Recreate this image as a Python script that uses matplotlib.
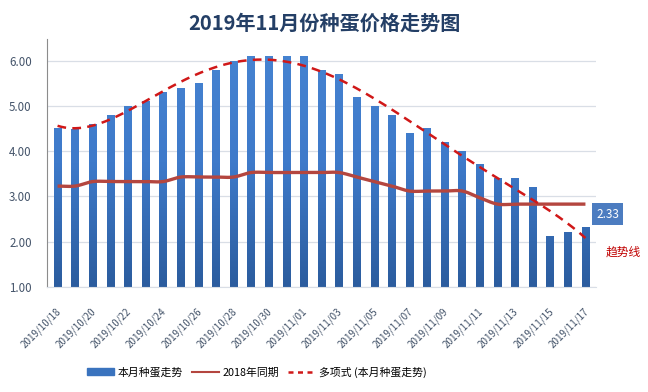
import numpy as np
import matplotlib
matplotlib.use("Agg")
import matplotlib.pyplot as plt
import matplotlib.transforms as mtrans
from matplotlib.patches import Patch
from matplotlib.lines import Line2D
from matplotlib.colors import LinearSegmentedColormap
import datetime as dt

plt.rcParams['font.family'] = ['Noto Sans CJK SC', 'DejaVu Sans']

title = "2019年11月份种蛋价格走势图"
start = dt.date(2019, 10, 18)
n_days = 31
dates = [start + dt.timedelta(days=i) for i in range(n_days)]
date_labels = [d.strftime("%Y/%m/%d") for d in dates]

# 本月种蛋走势
prices_2019 = [4.52, 4.50, 4.60, 4.80, 5.00, 5.11, 5.31, 5.40, 5.51, 5.80,
               6.00, 6.11, 6.11, 6.11, 6.11, 5.80, 5.71, 5.20, 5.00, 4.80,
               4.40, 4.52, 4.20, 4.00, 3.72, 3.41, 3.41, 3.20, 2.12, 2.21, 2.33]
# 2018年同期
prices_2018 = [3.23, 3.23, 3.33, 3.33, 3.33, 3.33, 3.33, 3.43, 3.43, 3.43,
               3.43, 3.53, 3.53, 3.53, 3.53, 3.53, 3.53, 3.43, 3.33, 3.23,
               3.12, 3.12, 3.12, 3.12, 2.97, 2.83, 2.83, 2.83, 2.83, 2.83, 2.83]

legend_labels = ["本月种蛋走势", "2018年同期", "多项式 (本月种蛋走势)"]
last_label = "2.33"
trend_note = "趋势线"
poly_order = 6

def catmull(xs, ys, steps=12):
    xs = np.asarray(xs, float); ys = np.asarray(ys, float)
    px = np.concatenate([[2*xs[0]-xs[1]], xs, [2*xs[-1]-xs[-2]]])
    py = np.concatenate([[ys[0]], ys, [ys[-1]]])
    ox, oy = [], []
    for i in range(1, len(px)-2):
        t = np.linspace(0, 1, steps, endpoint=False)
        for arr, out in ((px, ox), (py, oy)):
            p0, p1, p2, p3 = arr[i-1], arr[i], arr[i+1], arr[i+2]
            out.extend(0.5*((2*p1) + (-p0+p2)*t + (2*p0-5*p1+4*p2-p3)*t**2 + (-p0+3*p1-3*p2+p3)*t**3))
    ox.append(xs[-1]); oy.append(ys[-1])
    return np.array(ox), np.array(oy)

fig = plt.figure(figsize=(6.48, 3.92), dpi=100)
ax = fig.add_axes([47/648, 1-286.7/392, 549/648, (286.7-38.5)/392])

x = np.arange(n_days)
ymin, ymax = 1.0, 6.5
bars = ax.bar(x, np.array(prices_2019) - ymin, bottom=ymin, width=0.43, color='#3A73BE', zorder=2)

# vertical gradient on bars
cmap = LinearSegmentedColormap.from_list('g', ['#2B5C9E', '#3E7ACA', '#4784D2'])
grad = np.linspace(0, 1, 256).reshape(-1, 1)
for b in bars:
    bx = b.get_x()
    im = ax.imshow(grad, cmap=cmap, origin='lower', aspect='auto',
                   extent=[bx, bx + b.get_width(), ymin, ymax], zorder=2.1)
    im.set_clip_path(b)

sx, sy = catmull(x, prices_2018)
ax.plot(sx, sy, color='#B4463F', lw=2.4, zorder=3, solid_capstyle='butt')

coef = np.polyfit(x, prices_2019, poly_order)
xf = np.linspace(0, n_days-1, 300)
ax.plot(xf, np.polyval(coef, xf), color='#D01818', lw=1.8, ls=(0, (3.5, 2.5)), zorder=4)

ax.set_xlim(-0.6, n_days-0.4)
ax.set_ylim(ymin, ymax)
ax.set_yticks([1, 2, 3, 4, 5, 6])
ax.set_yticklabels([f"{v:.2f}" for v in [1, 2, 3, 4, 5, 6]])
ax.set_xticks(x[::2])
ax.set_xticklabels(date_labels[::2], rotation=45, ha='right', rotation_mode='anchor')
ax.tick_params(axis='both', length=0, colors='#44546A')
ax.tick_params(axis='x', pad=14, labelsize=7.1)
ax.tick_params(axis='y', pad=11, labelsize=8.3)
off = mtrans.ScaledTranslation(-2/100, 0, fig.dpi_scale_trans)
for lab in ax.get_xticklabels():
    lab.set_transform(lab.get_transform() + off)
ax.grid(axis='y', color='#D9DEE6', lw=0.9, zorder=0)
for s in ['top', 'right']:
    ax.spines[s].set_visible(False)
ax.spines['left'].set_color('#8C8C8C')
ax.spines['bottom'].set_color('#D9DEE6')

fig.text(0.5, 1-23/392, title, ha='center', va='center', fontsize=14.5,
         fontweight='bold', color='#243F66')

ax.text(30.62, 2.61, last_label, ha='left', va='center',
        color='white', fontsize=8.5, clip_on=False,
        bbox=dict(boxstyle='square,pad=0.35', fc='#4C7CC0', ec='none'))
ax.text(31.15, 1.77, trend_note, ha='left', va='center',
        color='#C00000', fontsize=8.5, clip_on=False)

handles = [Patch(color='#3A73BE'),
           Line2D([], [], color='#B4463F', lw=1.5),
           Line2D([], [], color='#D01818', lw=1.8, ls=(0, (2, 1.8)))]
fig.legend(handles, legend_labels, loc='center', bbox_to_anchor=(257/648, 1-372/392),
           ncol=3, frameon=False, fontsize=7.8, handlelength=2.5, handleheight=0.55,
           columnspacing=0.8, handletextpad=0.35)

fig.savefig("out.png", dpi=100)
